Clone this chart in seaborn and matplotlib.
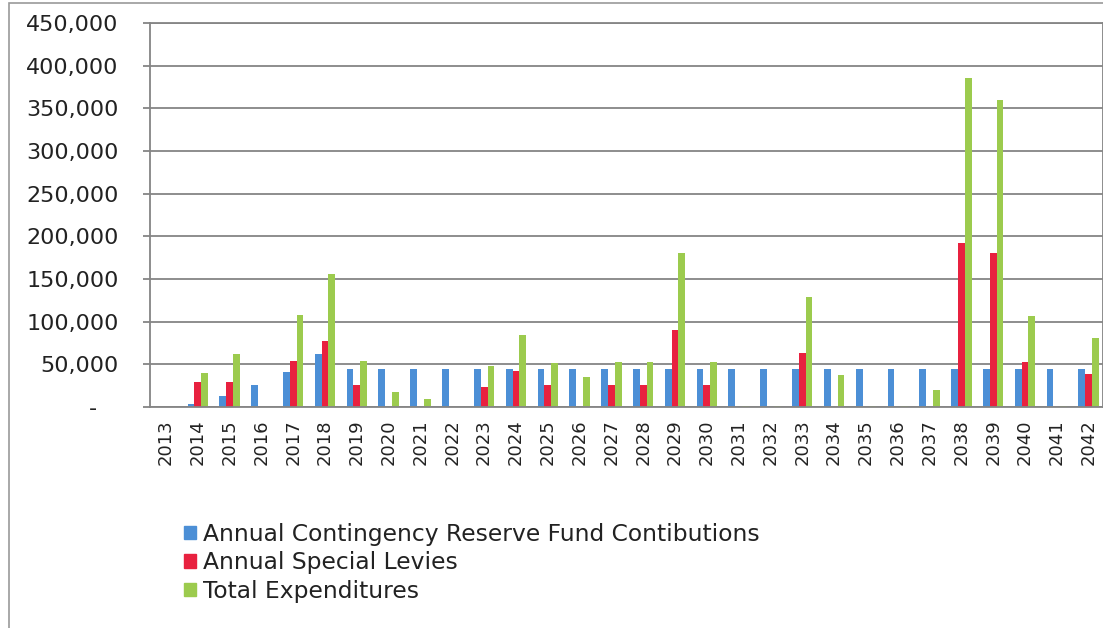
import matplotlib
matplotlib.use("Agg")
import matplotlib.pyplot as plt
import matplotlib.patches as mpatches
import seaborn as sns
import pandas as pd
from matplotlib.ticker import FuncFormatter

years = [str(y) for y in range(2013, 2043)]
contributions = [0, 4000, 13000, 26000, 41000, 62000, 44500, 44500, 44500, 44500,
                 45000, 45000, 45000, 45000, 45000, 44500, 44500, 44500, 44000, 44000,
                 45000, 45000, 45000, 45000, 45000, 44500, 44500, 44500, 44500, 44500]
special_levies = [0, 29000, 29000, 0, 53500, 77500, 26000, 0, 0, 0,
                  24000, 42000, 25500, 0, 26000, 26000, 90000, 26000, 0, 0,
                  63000, 0, 0, 0, 0, 192000, 180000, 53000, 0, 39000]
expenditures = [0, 39500, 62000, 0, 108000, 156000, 54000, 18000, 9500, 0,
                48500, 84000, 51000, 35000, 53000, 53000, 181000, 53000, 700, 700,
                129000, 37000, 700, 700, 20000, 386000, 360000, 107000, 700, 81000]
series_names = ["Annual Contingency Reserve Fund Contibutions",
                "Annual Special Levies",
                "Total Expenditures"]
colors = ["#4C8FD6", "#E8213F", "#9CCB4E"]

df = pd.DataFrame({
    "year": years * 3,
    "value": contributions + special_levies + expenditures,
    "series": [series_names[0]] * 30 + [series_names[1]] * 30 + [series_names[2]] * 30,
})

sns.set_theme(style="white")
plt.rcParams["font.family"] = ["DejaVu Sans"]

W, H = 1103, 628
fig = plt.figure(figsize=(W / 100, H / 100), dpi=100)
ax = fig.add_axes([150 / W, (H - 407) / H, (1103 - 150) / W, (407 - 23) / H])

sns.barplot(data=df, x="year", y="value", hue="series", order=years,
            hue_order=series_names, palette=colors, width=0.64, dodge=True,
            saturation=1, errorbar=None, legend=False, linewidth=0,
            edgecolor="none", ax=ax)

ax.set_ylim(0, 450000)
ax.set_xlim(-0.5, 29.45)
ax.set_yticks(range(0, 450001, 50000))
ax.yaxis.set_major_formatter(FuncFormatter(lambda v, p: "-   " if v == 0 else f"{int(v):,}"))
ax.yaxis.grid(True, color="#858585", linewidth=1.3)
ax.set_axisbelow(True)
for s in ax.spines.values():
    s.set_visible(True)
    s.set_color("#858585")
    s.set_linewidth(1.3)
ax.tick_params(axis="y", which="both", left=True, length=5, width=1.3, color="#858585",
               labelsize=16, labelcolor="#222222", pad=17.5)
ax.tick_params(axis="x", bottom=False, labelsize=13, labelcolor="#222222",
               labelrotation=90, pad=3)
ax.set_xlabel("")
ax.set_ylabel("")

handles = [mpatches.Patch(color=c, label=n) for c, n in zip(colors, series_names)]
fig.legend(handles=handles, loc="upper left", bbox_to_anchor=(184 / W, 1 - 523 / H),
           frameon=False, fontsize=16.8, handlelength=0.5, handleheight=0.5,
           handletextpad=0.3, labelspacing=0.23, borderaxespad=0, borderpad=0,
           labelcolor="#222222")

fig.patches.append(mpatches.Rectangle((9 / W, -0.05), 1.2, 1 - 3 / H + 0.05,
                                      transform=fig.transFigure, fill=False,
                                      edgecolor="#9a9a9a", linewidth=1.2))

fig.savefig("out.png", dpi=100)
